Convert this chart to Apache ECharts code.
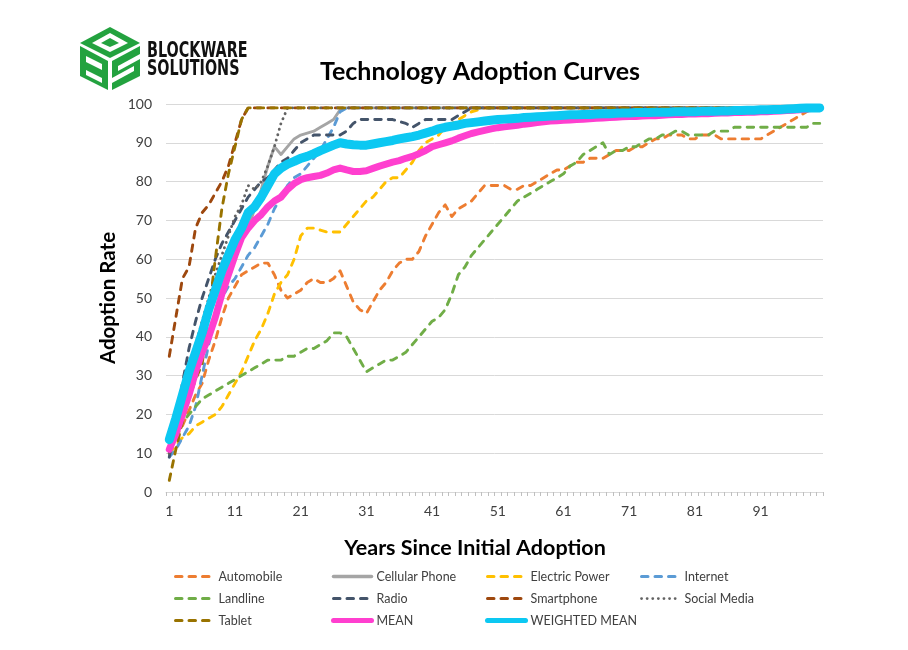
<!DOCTYPE html>
<html>
<head>
<meta charset="utf-8">
<script src="https://cdn.jsdelivr.net/npm/echarts@6/dist/echarts.min.js"></script>
<style>
html,body{margin:0;padding:0;background:#fff;}
#chart{width:908px;height:650px;}
</style>
</head>
<body>
<div id="chart"></div>
<script>
var years = [1,2,3,4,5,6,7,8,9,10,11,12,13,14,15,16,17,18,19,20,21,22,23,24,25,26,27,28,29,30,31,32,33,34,35,36,37,38,39,40,41,42,43,44,45,46,47,48,49,50,51,52,53,54,55,56,57,58,59,60,61,62,63,64,65,66,67,68,69,70,71,72,73,74,75,76,77,78,79,80,81,82,83,84,85,86,87,88,89,90,91,92,93,94,95,96,97,98,99,100];

var automobile = [11,14,17,21,25,28,34,39,45,50,53,56,57,58,59,59,56,52,50,51,52,54,55,54,54,55,57,53,49,47,46,49,52,54,57,59,60,60,62,66,69,72,74,71,73,74,75,77,79,79,79,79,78,78,79,79,80,81,82,83,83,84,85,85,86,86,86,87,88,88,88,89,89,90,91,91,92,92,92,91,91,92,92,92,91,91,91,91,91,91,91,92,93,94,95,96,97,98,99,99];
var cellular = [10,16,23,30,37,43,49,54,59,63,66,67,68,73,78,84,89,87,89,91,92,92.5,93,94,95,96,98.5,99,99,99,99,99,99,99,99,99,99,99,99,99,99,99,99,99,99,99,99,99,99,99,99,99,99,99,99,99,99,99,99,99,99,99,99,99,99,99,99,99,99,99,99,99,99,99,99,99,99,99,99,99,99,99,99,99,99,99,99,99,99,99,99,99,99,99,99,99,99,99,99,99];
var electric = [10,12,14,15,17,18,19,20,22,25,28,31,35,39,42,46,51,54,56,60,66,68,68,67.5,67,67,67,69,71,73,75,76,78,80,81,81,83,85,88,90,91,92,94,95,96,97,98,98.5,99,99,99,99,99,99,99,99,99,99,99,99,99,99,99,99,99,99,99,99,99,99,99,99,99,99,99,99,99,99,99,99,99,99,99,99,99,99,99,99,99,99,99,99,99,99,99,99,99,99,99,99];
var internet = [9,11,14,17,22,30,38,45,50,53,55,58,61,63,66,69,73,76,79,81,82,84,86,88,91,94,98,99,99,99,99,99,99,99,99,99,99,99,99,99,99,99,99,99,99,99,99,99,99,99,99,99,99,99,99,99,99,99,99,99,99,99,99,99,99,99,99,99,99,99,99,99,99,99,99,99,99,99,99,99,99,99,99,99,99,99,99,99,99,99,99,99,99,99,99,99,99,99,99,99];
var landline = [10,14,18,20,22,24,25,26,27,28,29,30,31,32,33,34,34,34,35,35,36,37,37,38,39,41,41,40,37,34,31,32,33,34,34,35,36,38,40,42,44,45,47,51,56,58,61,63,65,67,69,71,73,75,76,77,78,79,80,81,82,84,85,87,88,89,90,87,88,88,89,89,90,91,91,92,92,93,93,92,92,92,92,93,93,93,94,94,94,94,94,94,94,94,94,94,94,94,95,95];
var radio = [9,18,28,37,44,50,55,60,64,67,70,73,76,78,80,81,83,85,86,88,90,91,92,92,92,92,92,93,95,96,96,96,96,96,96,95.5,95,94,95,96,96,96,96,96,97,98,99,99,99,99,99,99,99,99,99,99,99,99,99,99,99,99,99,99,99,99,99,99,99,99,99,99,99,99,99,99,99,99,99,99,99,99,99,99,99,99,99,99,99,99,99,99,99,99,99,99,99,99,99,99];
var smartphone = [35,45,55,58,68,72,74,77,80,84,90,96,99,99,99,99,99,99,99,99,99,99,99,99,99,99,99,99,99,99,99,99,99,99,99,99,99,99,99,99,99,99,99,99,99,99,99,99,99,99,99,99,99,99,99,99,99,99,99,99,99,99,99,99,99,99,99,99,99,99,99,99,99,99,99,99,99,99,99,99,99,99,99,99,99,99,99,99,99,99,99,99,99,99,99,99,99,99,99,99];
var socialMedia = [10,16,24,31,38,44,50,56,61,66,71,74,79,78,80,84,89,95,99,99,99,99,99,99,99,99,99,99,99,99,99,99,99,99,99,99,99,99,99,99,99,99,99,99,99,99,99,99,99,99,99,99,99,99,99,99,99,99,99,99,99,99,99,99,99,99,99,99,99,99,99,99,99,99,99,99,99,99,99,99,99,99,99,99,99,99,99,99,99,99,99,99,99,99,99,99,99,99,99,99];
var tablet = [3,11,18,24,29,33,46,60,73,82,89,96,99,99,99,99,99,99,99,99,99,99,99,99,99,99,99,99,99,99,99,99,99,99,99,99,99,99,99,99,99,99,99,99,99,99,99,99,99,99,99,99,99,99,99,99,99,99,99,99,99,99,99,99,99,99,99,99,99,99,99,99,99,99,99,99,99,99,99,99,99,99,99,99,99,99,99,99,99,99,99,99,99,99,99,99,99,99,99,99];
var mean = [11,15,20,25,31,36,40,45,51,56,61,65.5,68,70,71.5,73.5,75,76,78,79.5,80.5,81,81.3,81.6,82.2,83,83.5,83,82.6,82.6,82.8,83.4,84,84.5,85,85.4,86,86.5,87.2,88,89,89.5,90,90.5,91.2,91.8,92.4,92.8,93.2,93.6,93.9,94.1,94.3,94.5,94.8,95,95.2,95.4,95.6,95.7,95.8,95.9,96,96.1,96.2,96.3,96.4,96.5,96.6,96.7,96.8,96.8,96.9,97,97,97.1,97.2,97.3,97.3,97.4,97.4,97.5,97.5,97.6,97.7,97.7,97.8,97.8,97.9,97.9,98,98,98.1,98.2,98.3,98.4,98.5,98.7,98.9,99];
var weightedMean = [13.5,19,25,31,36,41,47,52,57,61,65,68,72,73.5,76,79,82,83.5,84.5,85.2,86,86.5,87.2,88,88.7,89.4,90,89.7,89.5,89.4,89.4,89.7,90,90.3,90.6,91,91.3,91.6,92,92.5,93,93.6,94,94.3,94.6,95,95.2,95.4,95.6,95.8,96,96.1,96.2,96.3,96.5,96.6,96.7,96.8,96.9,97,97.1,97.2,97.2,97.3,97.3,97.4,97.5,97.5,97.6,97.7,97.7,97.8,97.8,97.8,97.9,97.9,97.9,98,98,98,98,98.1,98.1,98.1,98.2,98.2,98.3,98.3,98.4,98.4,98.5,98.5,98.6,98.6,98.7,98.8,98.9,99,99,99];

var yTicks = [0,10,20,30,40,50,60,70,80,90,100];

var DASH = [6.5,7];
var DOT = [0.1,5.5];
var seriesDefs = [
  {name:'Automobile', data:automobile, color:'#ED7D31', type:DASH, width:2.9, lw:3},
  {name:'Cellular Phone', data:cellular, color:'#A5A5A5', type:'solid', width:2.9, lw:3.5},
  {name:'Electric Power', data:electric, color:'#FFC000', type:DASH, width:2.9, lw:3},
  {name:'Internet', data:internet, color:'#5B9BD5', type:DASH, width:2.9, lw:3},
  {name:'Landline', data:landline, color:'#70AD47', type:DASH, width:2.9, lw:3},
  {name:'Radio', data:radio, color:'#44546A', type:DASH, width:2.9, lw:3},
  {name:'Smartphone', data:smartphone, color:'#9E480E', type:DASH, width:2.9, lw:3},
  {name:'Social Media', data:socialMedia, color:'#636363', type:DOT, width:2.9, lw:2.75},
  {name:'Tablet', data:tablet, color:'#997300', type:DASH, width:2.9, lw:3},
  {name:'MEAN', data:mean, color:'#FF3FCF', type:'solid', width:7, lw:5},
  {name:'WEIGHTED MEAN', data:weightedMean, color:'#0CC8F2', type:'solid', width:9, lw:5}
];

var series = seriesDefs.map(function(d){
  return {
    name:d.name, type:'line', data:d.data, symbol:'none', showSymbol:false,
    smooth:false, animation:false,
    lineStyle:{color:d.color, width:d.width, type:d.type, cap:'round', join:'round'},
    itemStyle:{color:d.color}
  };
});

function legendItem(name){
  var d = seriesDefs.filter(function(s){return s.name===name;})[0];
  return {name:name, lineStyle:{width:d.lw, type:d.type, color:d.color, cap:'round'}};
}
var legendText = {fontFamily:'Lato', fontSize:12.5, color:'#404040'};
function legendCol(names, left){
  return {data:names.map(legendItem), orient:'vertical', left:left, top:570, padding:0, itemWidth:38, itemHeight:14, itemGap:9,
    textStyle:legendText, selectedMode:false, itemStyle:{opacity:0}};
}

var chart = echarts.init(document.getElementById('chart'), null, {renderer:'canvas'});
chart.setOption({
  backgroundColor:'#ffffff',
  animation:false,
  grid:{left:166, right:85, top:104, bottom:158, containLabel:false},
  xAxis:{
    type:'category', data:years, boundaryGap:true,
    axisLine:{lineStyle:{color:'#D9D9D9', width:1}},
    axisTick:{show:true, interval:0, length:4, lineStyle:{color:'#BFBFBF'}},
    axisLabel:{interval:9, margin:12, fontFamily:'Lato', fontSize:14, color:'#404040'},
    splitLine:{show:false}
  },
  yAxis:{
    type:'value', min:yTicks[0], max:yTicks[yTicks.length-1], interval:10,
    axisLine:{show:false}, axisTick:{show:false},
    axisLabel:{margin:14, fontFamily:'Lato', fontSize:14, color:'#404040'},
    splitLine:{lineStyle:{color:'#D9D9D9', width:1}}
  },
  legend:[
    legendCol(['Automobile','Landline','Tablet'], 174),
    legendCol(['Cellular Phone','Radio','MEAN'], 331),
    legendCol(['Electric Power','Smartphone','WEIGHTED MEAN'], 485),
    legendCol(['Internet','Social Media'], 640)
  ],
  graphic:[
    {type:'text', x:480, y:72, style:{text:'Technology Adoption Curves', font:'bold 25px Lato', fill:'#000', align:'center', verticalAlign:'middle'}},
    {type:'text', x:475, y:548, style:{text:'Years Since Initial Adoption', font:'bold 21.5px Lato', fill:'#000', align:'center', verticalAlign:'middle'}},
    {type:'text', x:108, y:298, rotation:Math.PI/2, style:{text:'Adoption Rate', font:'bold 20.5px Lato', fill:'#000', align:'center', verticalAlign:'middle'}},
    // logo cube
    {type:'polygon', shape:{points:[[110,27],[140,43],[110,58],[80,43]]}, style:{fill:'#23A23F'}},
    {type:'polygon', shape:{points:[[110,33],[128,43],[110,52],[92,43]]}, style:{fill:'#ffffff'}},
    {type:'polygon', shape:{points:[[110,38],[119,43],[110,47],[101,43]]}, style:{fill:'#23A23F'}},
    {type:'polygon', shape:{points:[[80,46],[108,61],[108,90],[80,76]]}, style:{fill:'#23A23F'}},
    {type:'polygon', shape:{points:[[86,56],[102,64],[102,70],[86,62]]}, style:{fill:'#ffffff'}},
    {type:'polygon', shape:{points:[[86,70],[102,78],[102,83],[86,75]]}, style:{fill:'#ffffff'}},
    {type:'polygon', shape:{points:[[112,61],[140,46],[140,76],[112,90]]}, style:{fill:'#23A23F'}},
    {type:'polygon', shape:{points:[[118,66],[140,54],[140,59],[118,71]]}, style:{fill:'#ffffff'}},
    {type:'polygon', shape:{points:[[112,78],[134,66],[134,71],[112,83]]}, style:{fill:'#ffffff'}},
    {type:'text', x:147, y:52, scaleX:0.76, style:{text:'BLOCKWARE', font:'bold 21px "Liberation Sans Narrow", "DejaVu Sans Condensed", sans-serif', fill:'#111', align:'left', verticalAlign:'middle'}},
    {type:'text', x:147, y:70, scaleX:0.76, style:{text:'SOLUTIONS', font:'bold 21px "Liberation Sans Narrow", "DejaVu Sans Condensed", sans-serif', fill:'#111', align:'left', verticalAlign:'middle'}}
  ],
  series:series
});
</script>
</body>
</html>
